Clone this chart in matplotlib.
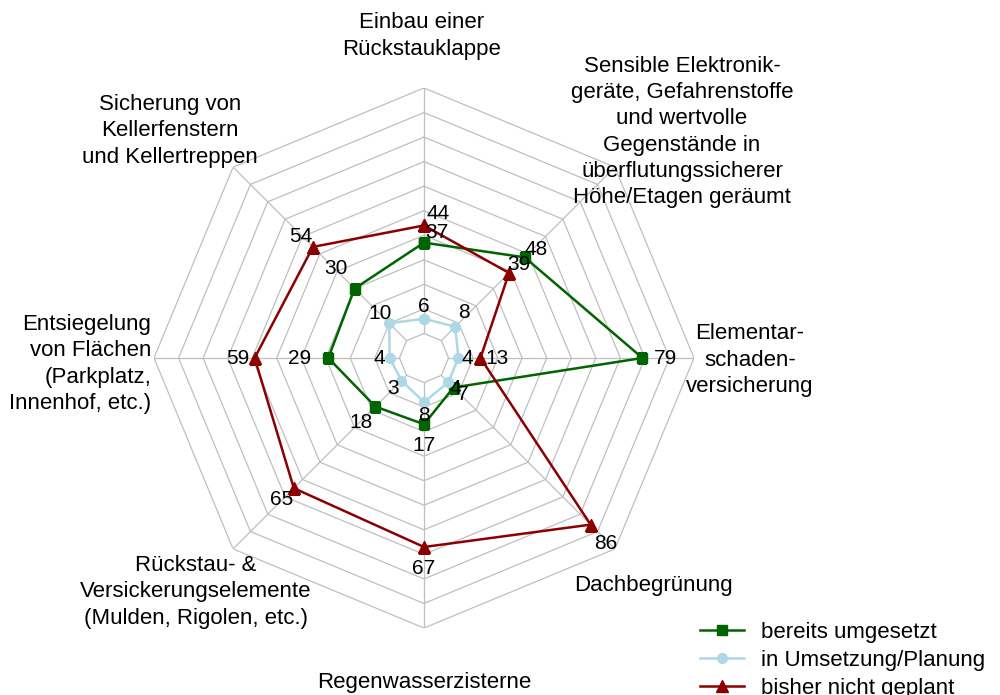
import numpy as np
import matplotlib.pyplot as plt

plt.rcParams['font.family'] = ['Liberation Sans', 'DejaVu Sans']

# measures, clockwise from the top
categories = [
    "Einbau einer\nRückstauklappe",
    "Sensible Elektronik-\ngeräte, Gefahrenstoffe\nund wertvolle\nGegenstände in\nüberflutungssicherer\nHöhe/Etagen geräumt",
    "Elementar-\nschaden-\nversicherung",
    "Dachbegrünung",
    "Regenwasserzisterne",
    "Rückstau- &\nVersickerungselemente\n(Mulden, Rigolen, etc.)",
    "Entsiegelung\nvon Flächen\n(Parkplatz,\nInnenhof, etc.)",
    "Sicherung von\nKellerfenstern\nund Kellertreppen",
]
umgesetzt = [37, 48, 79, 7, 17, 18, 29, 30]
in_planung = [6, 8, 4, 4, 8, 3, 4, 10]
nicht_geplant = [44, 39, 13, 86, 67, 65, 59, 54]
series_names = ["bereits umgesetzt", "in Umsetzung/Planung", "bisher nicht geplant"]

# label offsets in pixels (x right, y down)
off_umgesetzt = [(13, -10), (11, -8), (23, 0), (9, 7), (0, 21), (-14, 16), (-29, 0), (-19, -20)]
off_planung = [(0, -12), (9, -14), (9, 0), (7, 6), (0, 13), (-8, 8), (-10, 0), (-9, -10)]
off_nicht = [(14, -12), (10, -8), (17, 0), (15, 19), (0, 22), (-12, 11), (-17, 0), (-12, -10)]

# category label anchors in pixels: x, y, ha, va
cat_pos = [
    (422, 36, 'center', 'center'),
    (682, 132, 'center', 'center'),
    (750, 360, 'center', 'center'),
    (653, 585, 'center', 'center'),
    (424, 688, 'center', 'baseline'),
    (196, 592, 'center', 'center'),
    (151, 364, 'right', 'center'),
    (170, 131, 'center', 'center'),
]

W, H = 1000, 695
fig = plt.figure(figsize=(10, 6.95), dpi=100)
cx, cy, R = 424, 358, 270
ax = fig.add_axes([(cx - R) / W, (H - cy - R) / H, 2 * R / W, 2 * R / H], projection='polar')
ax.set_theta_zero_location('N')
ax.set_theta_direction(-1)
ax.set_ylim(-10, 100)
ax.grid(False)
ax.spines['polar'].set_visible(False)
ax.set_xticks([])
ax.set_yticks([])

n = len(categories)
angles = np.linspace(0, 2 * np.pi, n, endpoint=False)
closed = np.append(angles, angles[0])

# octagonal grid
grid_col = '#bfbfbf'
for r in range(0, 101, 10):
    ax.plot(closed, [r] * (n + 1), color=grid_col, lw=0.9, zorder=1)
for a in angles:
    ax.plot([a, a], [0, 100], color=grid_col, lw=0.9, zorder=1)

styles = [
    (umgesetzt, off_umgesetzt, '#006400', 's', 7),
    (in_planung, off_planung, '#add8e6', 'o', 7),
    (nicht_geplant, off_nicht, '#8b0000', '^', 8),
]
for i, (vals, offs, col, mk, ms) in enumerate(styles):
    v = np.append(vals, vals[0])
    ax.plot(closed, v, color=col, lw=1.8, marker=mk, ms=ms, label=series_names[i], zorder=3 + i)
    for a, val, (dx, dy) in zip(angles, vals, offs):
        ax.annotate(str(val), (a, val), xytext=(dx * 0.72, -dy * 0.72), textcoords='offset points',
                    ha='center', va='center', fontsize=15, color='black', zorder=10)

for text, (x, y, ha, va) in zip(categories, cat_pos):
    fig.text(x / W, 1 - y / H, text, ha=ha, va=va, multialignment=ha,
             fontsize=16, linespacing=1.32)

fig.legend(loc='upper left', bbox_to_anchor=(700 / W, 1 - 622 / H), frameon=False, fontsize=16,
           borderpad=0, borderaxespad=0, handlelength=2.0, handletextpad=0.75, labelspacing=0.32)

fig.savefig('out.png', dpi=100)
